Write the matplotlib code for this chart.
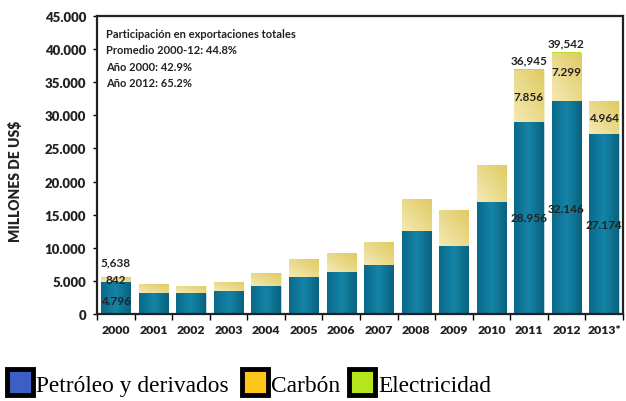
import numpy as np
import matplotlib.pyplot as plt
from matplotlib.patches import Rectangle
from matplotlib.colors import LinearSegmentedColormap

years = ['2000', '2001', '2002', '2003', '2004', '2005', '2006',
         '2007', '2008', '2009', '2010', '2011', '2012', '2013*']
petroleo = [4796, 3200, 3200, 3400, 4300, 5650, 6400,
            7400, 12600, 10300, 16900, 28956, 32146, 27174]
carbon = [842, 1300, 1100, 1400, 1850, 2600, 2800,
          3400, 4700, 5400, 5600, 7856, 7299, 4964]
electricidad = [0, 0, 0, 0, 0, 0, 0, 0, 0, 0, 0, 133, 97, 0]

info_lines = ['Participación en exportaciones totales',
              'Promedio 2000-12: 44.8%',
              'Año 2000: 42.9%',
              'Año 2012: 65.2%']

# colours
teal = '#0d7899'
sand = '#ebda8c'
green = '#b5e61d'
teal_cm = LinearSegmentedColormap.from_list('t', ['#0a6a8a', '#1584a7', '#09627f'])
sand_cm = LinearSegmentedColormap.from_list('s', ['#f4e9b4', '#ead98a', '#dfcb62'])

plt.rcParams['font.family'] = ['Lato', 'DejaVu Sans']
fig = plt.figure(figsize=(6.26, 4.02), dpi=100)
ax = fig.add_axes([0.155, 0.2164, 0.84, 0.7413])

x = np.arange(len(years))
w = 0.78
b1 = ax.bar(x, petroleo, w, color=teal, edgecolor='#cfe6ee', linewidth=0.5, zorder=2)
b2 = ax.bar(x, carbon, w, bottom=petroleo, color=sand, edgecolor='#f5efcf', linewidth=0.5, zorder=2)
bot2 = np.array(petroleo) + np.array(carbon)
ax.bar(x, electricidad, w, bottom=bot2, color=green, linewidth=0, zorder=2)

# soft shading inside the bars
grad_h = np.linspace(0, 1, 64).reshape(1, -1)
gx, gy = np.meshgrid(np.linspace(0, 1, 32), np.linspace(0, 1, 32))
grad_d = (gx + gy) / 2
for p in b1:
    im = ax.imshow(grad_h, cmap=teal_cm, aspect='auto', zorder=2.1,
                   extent=[p.get_x(), p.get_x() + p.get_width(), p.get_y(), p.get_y() + p.get_height()])
    im.set_clip_path(p)
for p in b2:
    im = ax.imshow(grad_d, cmap=sand_cm, aspect='auto', origin='lower', zorder=2.1,
                   extent=[p.get_x(), p.get_x() + p.get_width(), p.get_y(), p.get_y() + p.get_height()])
    im.set_clip_path(p)

ax.set_xlim(-0.5, len(years) - 0.5)
ax.set_ylim(0, 45000)
ax.set_yticks(range(0, 45001, 5000))
ax.set_yticklabels(['0'] + ['{:,}'.format(v).replace(',', '.') for v in range(5000, 45001, 5000)],
                   fontweight='heavy', fontsize=9.5, color='#222222')
ax.set_xticks(x)
ax.set_xticklabels(years, fontweight='heavy', fontsize=8.8, color='#222222')
ax.set_xticks(np.arange(-0.5, len(years), 1), minor=True)
ax.tick_params(axis='x', which='major', length=0, pad=7)
ax.tick_params(axis='x', which='minor', length=4, width=1, direction='out')
ax.tick_params(axis='y', length=3, width=1, pad=5)
for s in ax.spines.values():
    s.set_linewidth(1.6)
    s.set_color('#222222')
fig.text(15 / 626, 1 - 181 / 402, 'MILLONES DE US$', rotation=90, fontweight='heavy',
         fontsize=10, ha='center', va='center', color='#222222')

# info text top-left
for i, t in enumerate(info_lines):
    ax.text(0.018, 0.94 - i * 0.054, t, transform=ax.transAxes, fontsize=8,
            fontweight='bold', va='center', color='#222222')

# value labels
totals = bot2 + np.array(electricidad)
lab = dict(fontsize=8.5, fontweight='bold', ha='center', va='center', color='#222222', zorder=3)
ax.text(x[0], totals[0] + 2200, '5,638', **lab)
ax.text(x[0], petroleo[0] + 450, '842', **lab)
ax.text(x[0], 2100, '4.796', **lab)
for i in [11, 12]:
    ax.text(x[i], totals[i] + 1400, '{:,}'.format(int(totals[i])), **lab)
for i in [11, 12, 13]:
    ax.text(x[i], petroleo[i] + carbon[i] / 2 + (800 if i == 12 else 0),
            '{:,}'.format(carbon[i]).replace(',', '.'), **lab)
ax.text(x[11], 14500, '28.956', **lab)
ax.text(x[12], 16000, '32.146', **lab)
ax.text(x[13], 13500, '27.174', **lab)

# legend at bottom
leg_items = [('Petróleo y derivados', '#3b5fc4'), ('Carbón', '#ffc61a'), ('Electricidad', green)]
xpos = [7, 242, 349]
for (name, c), xp in zip(leg_items, xpos):
    fig.patches.append(Rectangle((xp / 626, 6 / 402), 26 / 626, 26 / 402, transform=fig.transFigure,
                                 facecolor=c, edgecolor='black', linewidth=3.5))
    fig.text((xp + 29) / 626, 15 / 402, name, fontsize=16.8, family='Liberation Serif',
             va='center')

fig.savefig('out.png', dpi=100)
